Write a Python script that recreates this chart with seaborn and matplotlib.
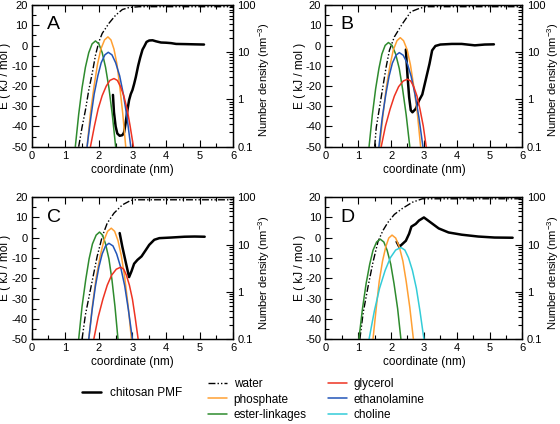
import matplotlib
matplotlib.use('Agg')
import matplotlib.pyplot as plt
import seaborn as sns
from matplotlib.lines import Line2D
from matplotlib.ticker import MultipleLocator, LogLocator, NullFormatter

# ---- panel A ----
a_pmf_x = [2.42, 2.45, 2.50, 2.55, 2.62, 2.70, 2.75, 2.80, 2.85, 2.90, 2.95, 3.00, 3.05, 3.10,
           3.17, 3.23, 3.30, 3.35, 3.42, 3.50, 3.60, 3.70, 3.85, 4.00, 4.15, 4.30, 4.60, 4.85, 5.13]
a_pmf_e = [-24.4, -33, -40, -43.5, -44.6, -44.3, -43, -38, -32, -27, -24, -22, -19, -15.6,
           -10, -6, -2, -0.5, 1.8, 2.5, 2.6, 2.1, 1.5, 1.4, 1.2, 0.8, 0.7, 0.6, 0.5]
a_water_x = [1.40, 1.50, 1.60, 1.70, 1.80, 1.90, 2.00, 2.10, 2.30, 2.50, 2.70, 2.90, 3.20, 6.00]
a_water_d = [0.1, 0.258, 0.59, 1.58, 3.49, 8.65, 16.6, 25.1, 41.1, 61.1, 80.5, 88.9, 92.4, 92.4]
a_ester_x = [1.30, 1.40, 1.50, 1.60, 1.70, 1.80, 1.90, 2.00, 2.10, 2.20, 2.30, 2.40, 2.50]
a_ester_d = [0.1, 0.484, 1.76, 4.80, 9.83, 15.1, 17.4, 15.1, 9.83, 4.80, 1.76, 0.484, 0.1]
a_phos_x = [1.65, 1.75, 1.86, 1.96, 2.06, 2.17, 2.27, 2.36, 2.45, 2.54, 2.62, 2.71, 2.80]
a_phos_d = [0.1, 0.514, 1.96, 5.56, 11.7, 18.3, 21.2, 18.3, 11.7, 5.56, 1.96, 0.514, 0.1]
a_etha_x = [1.65, 1.76, 1.86, 1.97, 2.07, 2.18, 2.28, 2.39, 2.50, 2.62, 2.73, 2.84, 2.95]
a_etha_d = [0.1, 0.409, 1.29, 3.17, 6.01, 8.83, 10.0, 8.83, 6.01, 3.17, 1.29, 0.409, 0.1]
a_glyc_x = [1.75, 1.87, 1.98, 2.10, 2.22, 2.33, 2.45, 2.55, 2.64, 2.74, 2.84, 2.93, 3.03]
a_glyc_d = [0.1, 0.276, 0.634, 1.21, 1.92, 2.54, 2.78, 2.54, 1.92, 1.21, 0.634, 0.276, 0.1]

# ---- panel B ----
b_pmf_x = [2.45, 2.50, 2.55, 2.60, 2.65, 2.75, 2.85, 2.95, 3.05, 3.17, 3.25, 3.35, 3.50,
           3.85, 4.15, 4.55, 4.85, 5.13]
b_pmf_e = [-2, -14.8, -25.5, -32, -33, -31.3, -27.2, -24.2, -17.3, -9, -2.4, -0.2, 0.5,
           0.8, 0.8, 0.1, 0.5, 0.6]
b_water_x = [1.50, 1.55, 1.65, 1.75, 1.85, 1.95, 2.10, 2.35, 2.60, 2.85, 3.05, 6.00]
b_water_d = [0.1, 0.258, 0.685, 1.84, 4.88, 11.0, 21.2, 40.7, 72.2, 84.6, 92.4, 92.4]
b_ester_x = [1.33, 1.43, 1.53, 1.63, 1.72, 1.82, 1.92, 2.03, 2.14, 2.25, 2.35, 2.46, 2.57]
b_ester_d = [0.1, 0.473, 1.68, 4.52, 9.16, 14.0, 16.1, 14.0, 9.16, 4.52, 1.68, 0.473, 0.1]
b_phos_x = [1.65, 1.76, 1.86, 1.97, 2.07, 2.18, 2.28, 2.38, 2.49, 2.59, 2.69, 2.80, 2.90]
b_phos_d = [0.1, 0.508, 1.92, 5.40, 11.3, 17.6, 20.4, 17.6, 11.3, 5.40, 1.92, 0.508, 0.1]
b_etha_x = [1.63, 1.73, 1.84, 1.94, 2.04, 2.15, 2.25, 2.37, 2.49, 2.61, 2.73, 2.85, 2.97]
b_etha_d = [0.1, 0.406, 1.28, 3.12, 5.91, 8.66, 9.84, 8.66, 5.91, 3.12, 1.28, 0.406, 0.1]
b_glyc_x = [1.70, 1.83, 1.97, 2.10, 2.23, 2.37, 2.50, 2.60, 2.69, 2.79, 2.88, 2.98, 3.07]
b_glyc_d = [0.1, 0.274, 0.624, 1.18, 1.87, 2.46, 2.70, 2.46, 1.87, 1.18, 0.624, 0.274, 0.1]

# ---- panel C ----
c_pmf_x = [2.62, 2.70, 2.80, 2.90, 2.97, 3.05, 3.15, 3.27, 3.40, 3.50, 3.65, 3.80, 4.15,
           4.55, 4.85, 5.15]
c_pmf_e = [2.3, -4.5, -12, -19.4, -16.6, -12.8, -10.9, -9.2, -6, -3.5, -1, -0.2, 0.1,
           0.5, 0.6, 0.5]
c_water_x = [1.50, 1.60, 1.75, 1.95, 2.10, 2.25, 2.45, 2.70, 2.95, 3.10, 6.00]
c_water_d = [0.1, 0.327, 1.11, 5.61, 14.7, 28.3, 45.9, 68.7, 85.4, 88.0, 88.0]
c_ester_x = [1.40, 1.50, 1.61, 1.71, 1.81, 1.92, 2.02, 2.11, 2.20, 2.30, 2.39, 2.48, 2.57]
c_ester_d = [0.1, 0.491, 1.81, 4.98, 10.3, 15.8, 18.3, 15.8, 10.3, 4.98, 1.81, 0.491, 0.1]
c_phos_x = [1.70, 1.81, 1.92, 2.04, 2.15, 2.26, 2.37, 2.47, 2.57, 2.67, 2.77, 2.87, 2.97]
c_phos_d = [0.1, 0.521, 2.01, 5.73, 12.1, 19.0, 22.1, 19.0, 12.1, 5.73, 2.01, 0.521, 0.1]
c_etha_x = [1.70, 1.80, 1.90, 2.00, 2.10, 2.20, 2.30, 2.42, 2.53, 2.65, 2.77, 2.88, 3.00]
c_etha_d = [0.1, 0.416, 1.34, 3.31, 6.34, 9.35, 10.6, 9.35, 6.34, 3.31, 1.34, 0.416, 0.1]
c_glyc_x = [1.85, 1.98, 2.12, 2.25, 2.38, 2.52, 2.65, 2.74, 2.82, 2.91, 3.00, 3.08, 3.17]
c_glyc_d = [0.1, 0.292, 0.700, 1.38, 2.25, 3.01, 3.32, 3.01, 2.25, 1.38, 0.700, 0.292, 0.1]

# ---- panel D ----
d_pmf_x = [2.17, 2.25, 2.35, 2.45, 2.55, 2.62, 2.75, 2.85, 3.00, 3.20, 3.45, 3.75, 4.15,
           4.65, 5.15, 5.70]
d_pmf_e = [-2, -4.5, -3, -1.5, 2, 5.5, 6.8, 8.5, 10, 7.6, 4.6, 2.6, 1.5, 0.6, 0.1, 0]
d_water_x = [1.05, 1.15, 1.30, 1.45, 1.60, 1.75, 1.90, 2.10, 2.35, 2.65, 2.95, 6.00]
d_water_d = [0.1, 0.36, 1.30, 4.25, 11.4, 19.6, 29.1, 43.2, 58.1, 78.1, 92.4, 92.4]
d_ester_x = [1.02, 1.13, 1.24, 1.35, 1.45, 1.56, 1.67, 1.78, 1.88, 1.99, 2.09, 2.20, 2.30]
d_ester_d = [0.1, 0.442, 1.49, 3.84, 7.55, 11.3, 12.97, 11.3, 7.55, 3.84, 1.49, 0.442, 0.1]
d_phos_x = [1.45, 1.55, 1.64, 1.74, 1.84, 1.93, 2.03, 2.14, 2.25, 2.36, 2.46, 2.57, 2.68]
d_phos_d = [0.1, 0.470, 1.67, 4.46, 9.00, 13.7, 15.8, 13.7, 9.00, 4.46, 1.67, 0.470, 0.1]
d_chol_x = [1.33, 1.49, 1.65, 1.82, 1.98, 2.14, 2.30, 2.42, 2.53, 2.65, 2.77, 2.88, 3.00]
d_chol_d = [0.1, 0.391, 1.19, 2.84, 5.27, 7.64, 8.65, 7.64, 5.27, 2.84, 1.19, 0.391, 0.1]

panel_letters = ['A', 'B', 'C', 'D']
legend_labels = ['water', 'phosphate', 'ester-linkages', 'glycerol', 'ethanolamine', 'choline']

c_phos = '#ffa033'
c_ester = '#2e8b2e'
c_glyc = '#ee3322'
c_etha = '#2255b8'
c_chol = '#33ccd8'
water_ls = (0, (5, 1.5, 1, 1.5, 1, 1.5))

sns.set_style('ticks', {'axes.edgecolor': 'black', 'xtick.color': 'black',
                        'ytick.color': 'black', 'text.color': 'black',
                        'axes.labelcolor': 'black'})
plt.rcParams['font.family'] = ['Liberation Sans', 'DejaVu Sans']
plt.rcParams['mathtext.default'] = 'regular'
plt.rcParams['axes.unicode_minus'] = False

fig = plt.figure(figsize=(5.6, 4.24), dpi=100)
rects = [[0.0565, 0.654, 0.360, 0.334],
         [0.581, 0.654, 0.352, 0.334],
         [0.0565, 0.200, 0.360, 0.335],
         [0.581, 0.200, 0.352, 0.335]]

panels = [
    (a_pmf_x, a_pmf_e, a_water_x, a_water_d,
     [(a_ester_x, a_ester_d, c_ester), (a_phos_x, a_phos_d, c_phos),
      (a_etha_x, a_etha_d, c_etha), (a_glyc_x, a_glyc_d, c_glyc)]),
    (b_pmf_x, b_pmf_e, b_water_x, b_water_d,
     [(b_ester_x, b_ester_d, c_ester), (b_phos_x, b_phos_d, c_phos),
      (b_etha_x, b_etha_d, c_etha), (b_glyc_x, b_glyc_d, c_glyc)]),
    (c_pmf_x, c_pmf_e, c_water_x, c_water_d,
     [(c_ester_x, c_ester_d, c_ester), (c_phos_x, c_phos_d, c_phos),
      (c_etha_x, c_etha_d, c_etha), (c_glyc_x, c_glyc_d, c_glyc)]),
    (d_pmf_x, d_pmf_e, d_water_x, d_water_d,
     [(d_ester_x, d_ester_d, c_ester), (d_phos_x, d_phos_d, c_phos),
      (d_chol_x, d_chol_d, c_chol)]),
]

for rect, letter, (px, pe, wx, wd, curves) in zip(rects, panel_letters, panels):
    ax = fig.add_axes(rect)
    ax2 = ax.twinx()
    ax2.set_yscale('log')

    # density profiles on the right (log) axis
    sns.lineplot(x=wx, y=wd, ax=ax2, color='black', linewidth=1.0, linestyle=water_ls)
    for cx, cd, col in curves:
        sns.lineplot(x=cx, y=cd, ax=ax2, color=col, linewidth=1.1)

    # PMF on the left axis
    sns.lineplot(x=px, y=pe, ax=ax, color='black', linewidth=1.8)

    ax.set_xlim(0, 6)
    ax.set_ylim(-50, 20)
    ax2.set_ylim(0.1, 100)

    ax.xaxis.set_major_locator(MultipleLocator(1))
    ax.xaxis.set_minor_locator(MultipleLocator(0.5))
    ax.yaxis.set_major_locator(MultipleLocator(10))
    ax.yaxis.set_minor_locator(MultipleLocator(5))
    ax.tick_params(which='both', direction='in', top=True, right=False, labelsize=8, pad=3)
    ax.tick_params(which='major', length=5, width=0.8)
    ax.tick_params(which='minor', length=3, width=0.8)

    ax2.set_yticks([0.1, 1, 10, 100])
    ax2.set_yticklabels(['0.1', '1', '10', '100'])
    ax2.yaxis.set_minor_locator(LogLocator(base=10, subs=range(2, 10)))
    ax2.yaxis.set_minor_formatter(NullFormatter())
    ax2.tick_params(which='both', direction='in', labelsize=8, pad=3)
    ax2.tick_params(which='major', length=5, width=0.8)
    ax2.tick_params(which='minor', length=3, width=0.8)

    for sp in list(ax.spines.values()) + list(ax2.spines.values()):
        sp.set_linewidth(0.9)

    ax.set_xlabel('coordinate (nm)', fontsize=8.5, labelpad=2)
    ax.set_ylabel('E ( kJ / mol )', fontsize=8.5)
    ax.yaxis.set_label_coords(-0.10, 0.5)
    ax2.set_ylabel('Number density (nm$^{-3}$)', fontsize=8)
    ax2.yaxis.set_label_coords(1.115, 0.47)
    ax.text(0.075, 0.92, letter, transform=ax.transAxes, fontsize=14, va='top', ha='left')

pmf_handle = [Line2D([], [], color='black', linewidth=1.8)]
other_handles = [Line2D([], [], color='black', linewidth=1.0, linestyle=water_ls),
                 Line2D([], [], color=c_phos, linewidth=1.1),
                 Line2D([], [], color=c_ester, linewidth=1.1),
                 Line2D([], [], color=c_glyc, linewidth=1.1),
                 Line2D([], [], color=c_etha, linewidth=1.1),
                 Line2D([], [], color=c_chol, linewidth=1.1)]

fig.legend(pmf_handle, ['chitosan PMF'], loc='center left', bbox_to_anchor=(0.147, 0.073),
           frameon=False, fontsize=8.5, handlelength=1.6, handletextpad=0.75, borderpad=0,
           borderaxespad=0)
fig.legend(other_handles, legend_labels, ncol=2, loc='upper left',
           bbox_to_anchor=(0.371, 0.108), frameon=False, fontsize=8.5, handlelength=1.6,
           handletextpad=0.6, columnspacing=1.8, labelspacing=0.28, borderpad=0,
           borderaxespad=0)

fig.savefig('out.png', dpi=100)
